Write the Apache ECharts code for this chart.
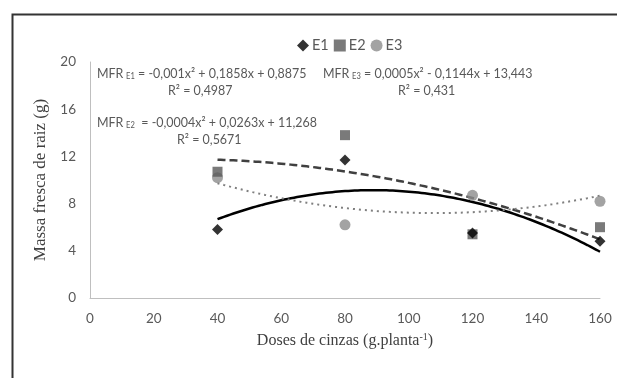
<!DOCTYPE html>
<html><head><meta charset="utf-8">
<script src="https://cdn.jsdelivr.net/npm/echarts@6/dist/echarts.min.js"></script>
<style>html,body{margin:0;padding:0;background:#fff}#c{width:617px;height:378px}</style>
</head><body><div id="c"></div>
<script>
const doses = [40, 80, 120, 160];
const e1 = [5.8, 11.7, 5.5, 4.8];
const e2 = [10.7, 13.8, 5.4, 6.0];
const e3 = [10.2, 6.2, 8.7, 8.2];
const seriesNames = ['E1', 'E2', 'E3'];
const xTicks = [0, 20, 40, 60, 80, 100, 120, 140, 160];
const yTicks = [0, 4, 8, 12, 16, 20];

// polynomial (order 2) least-squares trendline, as the spreadsheet computes it
function quadFit(xs, ys) {
  let S = [0,0,0,0,0], T = [0,0,0];
  for (let i = 0; i < xs.length; i++) {
    for (let k = 0; k < 5; k++) S[k] += Math.pow(xs[i], k);
    for (let k = 0; k < 3; k++) T[k] += ys[i] * Math.pow(xs[i], k);
  }
  const A = [[S[0],S[1],S[2],T[0]],[S[1],S[2],S[3],T[1]],[S[2],S[3],S[4],T[2]]];
  for (let c = 0; c < 3; c++) {
    for (let r = c + 1; r < 3; r++) {
      const f = A[r][c] / A[c][c];
      for (let k = c; k < 4; k++) A[r][k] -= f * A[c][k];
    }
  }
  const b = [0,0,0];
  for (let r = 2; r >= 0; r--) {
    let s = A[r][3];
    for (let k = r + 1; k < 3; k++) s -= A[r][k] * b[k];
    b[r] = s / A[r][r];
  }
  return b;
}
function trend(ys) {
  const b = quadFit(doses, ys);
  const pts = [];
  for (let x = doses[0]; x <= doses[doses.length - 1]; x += 1) pts.push([x, b[0] + b[1]*x + b[2]*x*x]);
  return pts;
}
const pair = ys => doses.map((d, i) => [d, ys[i]]);

const chart = echarts.init(document.getElementById('c'));
const eqStyle = {
  fontFamily: 'Lato', fontSize: 14, fill: '#595959',
  rich: { sub: { fontFamily: 'Lato', fontSize: 8.5, fill: '#595959', padding: [6,0,0,3] } }
};
function eqText(x, y, text) {
  return { type: 'text', x: x, y: y, scaleX: 0.89,
    style: Object.assign({}, eqStyle, { text: text }) };
}
chart.setOption({
  animation: false,
  backgroundColor: '#fff',
  grid: { left: 90, right: 17, top: 62, bottom: 80 },
  legend: {
    top: 33, left: 292, itemGap: 5, itemWidth: 12, itemHeight: 12,
    data: seriesNames,
    textStyle: { fontFamily: 'Lato', fontSize: 14.5, color: '#595959', padding: [0,0,0,-2] }
  },
  xAxis: {
    type: 'value', min: 0, max: 160, interval: 20,
    axisLine: { lineStyle: { color: '#bfbfbf', width: 1 } },
    axisTick: { show: false }, splitLine: { show: false },
    axisLabel: { fontFamily: 'Lato', fontSize: 13.5, color: '#595959', margin: 14,
      formatter: v => xTicks.includes(v) ? String(v) : '' },
    name: 'Doses de cinzas (g.planta{sup|-1})',
    nameLocation: 'middle', nameGap: 34,
    nameTextStyle: { fontFamily: 'Liberation Serif', fontSize: 16, color: '#404040',
      rich: { sup: { fontFamily: 'Liberation Serif', fontSize: 10, color: '#404040', padding: [0,0,8,0] } } }
  },
  yAxis: {
    type: 'value', min: 0, max: 20, interval: 4,
    axisLine: { show: true, lineStyle: { color: '#bfbfbf', width: 1 } },
    axisTick: { show: false }, splitLine: { show: false },
    axisLabel: { fontFamily: 'Lato', fontSize: 13.5, color: '#595959', margin: 14,
      formatter: v => yTicks.includes(v) ? String(v) : '' },
    name: 'Massa fresca de raiz (g)',
    nameLocation: 'middle', nameGap: 38,
    nameTextStyle: { fontFamily: 'Liberation Serif', fontSize: 17, color: '#404040' }
  },
  series: [
    { name: 'E1', type: 'scatter', data: pair(e1), symbol: 'diamond', symbolSize: 11,
      itemStyle: { color: '#000' }, z: 5 },
    { name: 'E2', type: 'scatter', data: pair(e2), symbol: 'rect', symbolSize: 10,
      itemStyle: { color: '#595959' }, z: 4 },
    { name: 'E3', type: 'scatter', data: pair(e3), symbol: 'circle', symbolSize: 11,
      itemStyle: { color: '#8c8c8c' }, z: 3 },
    { name: 'E1 trend', type: 'line', data: trend(e1), showSymbol: false,
      lineStyle: { color: '#000', width: 2.5, type: 'solid' }, z: 2 },
    { name: 'E2 trend', type: 'line', data: trend(e2), showSymbol: false,
      lineStyle: { color: '#404040', width: 2.5, type: [8, 4] }, z: 2 },
    { name: 'E3 trend', type: 'line', data: trend(e3), showSymbol: false,
      lineStyle: { color: '#7f7f7f', width: 2, type: [2, 4] }, z: 2 }
  ],
  graphic: [
    { type: 'rect', left: 10, top: 12, shape: { width: 620, height: 380 },
      style: { fill: 'none', stroke: '#333', lineWidth: 2 }, silent: true },
    eqText(97, 66, 'MFR{sub|E1} = -0,001x² + 0,1858x + 0,8875'),
    eqText(168, 83, 'R² = 0,4987'),
    eqText(323, 66, 'MFR{sub|E3} = 0,0005x² - 0,1144x + 13,443'),
    eqText(398, 83, 'R² = 0,431'),
    eqText(97, 115, 'MFR{sub|E2}  = -0,0004x² + 0,0263x + 11,268'),
    eqText(177, 132, 'R² = 0,5671')
  ]
});
</script></body></html>
